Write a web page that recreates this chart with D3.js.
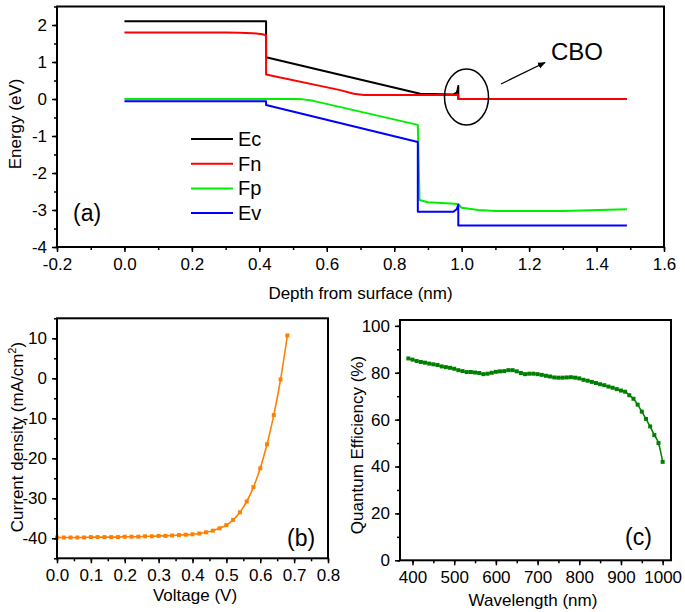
<!DOCTYPE html>
<html><head><meta charset="utf-8">
<script src="https://cdn.jsdelivr.net/npm/d3@7"></script>
<style>
body{margin:0;background:#fff;}
text{font-family:Arial,"Liberation Sans",sans-serif;fill:#000;}
</style></head>
<body><svg id="c" width="685" height="612"></svg>
<script>
// ---------- Panel (a) band diagram ----------
const legendNames = ["Ec","Fn","Fp","Ev"];
const legendColors = ["#000000","#ff0000","#00ee00","#0000ff"];
const ecDepth  = [0, 0.42, 0.42, 0.877, 0.975, 0.985, 0.988, 0.99, 0.99, 1.49];
const ecEnergy = [2.1, 2.1, 1.13, 0.14, 0.12, 0.17, 0.25, 0.35, 0.0, 0.0];
const fnDepth  = [0, 0.3, 0.34, 0.38, 0.41, 0.42, 0.42, 0.64, 0.68, 0.71, 0.99, 0.99, 1.49];
const fnEnergy = [1.8, 1.8, 1.79, 1.78, 1.75, 1.72, 0.66, 0.24, 0.14, 0.11, 0.11, 0.0, 0.0];
const fpDepth  = [0, 0.5, 0.53, 0.56, 0.87, 0.875, 0.9, 0.98, 0.99, 1.0, 1.05, 1.1, 1.3, 1.49];
const fpEnergy = [0, 0, -0.01, -0.05, -0.70, -2.73, -2.79, -2.83, -2.84, -2.94, -3.0, -3.03, -3.03, -2.98];
const evDepth  = [0, 0.42, 0.42, 0.87, 0.87, 0.975, 0.985, 0.99, 0.99, 1.49];
const evEnergy = [-0.06, -0.06, -0.16, -1.16, -3.05, -3.05, -2.98, -2.86, -3.42, -3.42];
const aXTicks = [-0.2,0,0.2,0.4,0.6,0.8,1.0,1.2,1.4,1.6];
const aYTicks = [-4,-3,-2,-1,0,1,2];

// ---------- Panel (b) J-V ----------
const voltage = [0,0.02,0.04,0.06,0.08,0.10,0.12,0.14,0.16,0.18,0.20,0.22,0.24,0.26,0.28,0.30,0.32,0.34,0.36,0.38,0.40,0.42,0.44,0.46,0.48,0.50,0.52,0.54,0.56,0.58,0.60,0.62,0.64,0.66,0.68];
const currentDensity = [-39.8,-39.8,-39.8,-39.8,-39.8,-39.7,-39.7,-39.7,-39.7,-39.7,-39.6,-39.6,-39.6,-39.5,-39.5,-39.4,-39.4,-39.3,-39.2,-39.1,-39.0,-38.8,-38.5,-38.1,-37.5,-36.7,-35.4,-33.5,-30.8,-27.2,-22.5,-16.5,-9.2,-0.3,10.7];
const bXTicks = [0,0.1,0.2,0.3,0.4,0.5,0.6,0.7,0.8];
const bYTicks = [-40,-30,-20,-10,0,10];

// ---------- Panel (c) QE ----------
const wavelength = [390,400,410,420,430,440,450,460,470,480,490,500,510,520,530,540,550,560,570,580,590,600,610,620,630,640,650,660,670,680,690,700,710,720,730,740,750,760,770,780,790,800,810,820,830,840,850,860,870,880,890,900,910,920,930,940,950,960,970,980,990,1000];
const qe = [86.1,85.6,85.0,84.6,84.3,83.9,83.6,83.3,82.7,82.4,82.1,81.7,81.1,80.7,80.3,80.3,80.1,79.9,79.4,79.6,80.0,80.4,80.6,80.7,81.1,81.1,80.6,79.9,79.4,79.6,79.6,79.4,79.1,78.7,78.4,78.0,77.9,77.9,78.0,78.1,77.9,77.6,77.0,76.6,76.1,75.6,75.1,74.7,74.1,73.6,73.0,72.4,71.9,70.4,68.9,66.4,63.4,60.3,57.1,53.4,50.0,42.0];
const cXTicks = [400,500,600,700,800,900,1000];
const cYTicks = [0,20,40,60,80,100];

const svg = d3.select("#c");
const FS = 17;

function frame(g, x, y, xTicks, yTicks, xMinor, yMinor, xFmt, yFmt) {
  const [x0,x1] = x.range(), [y0,y1] = y.range();
  const xa = g.append("g").attr("transform",`translate(0,${y0})`)
    .call(d3.axisBottom(x).tickValues(xMinor).tickSize(3).tickFormat(""));
  xa.select(".domain").remove();
  const xb = g.append("g").attr("transform",`translate(0,${y0})`)
    .call(d3.axisBottom(x).tickValues(xTicks).tickSize(5).tickPadding(6).tickFormat(xFmt));
  xb.select(".domain").remove();
  const ya = g.append("g").attr("transform",`translate(${x0},0)`)
    .call(d3.axisLeft(y).tickValues(yMinor).tickSize(3).tickFormat(""));
  ya.select(".domain").remove();
  const yb = g.append("g").attr("transform",`translate(${x0},0)`)
    .call(d3.axisLeft(y).tickValues(yTicks).tickSize(5).tickPadding(5).tickFormat(yFmt));
  yb.select(".domain").remove();
  g.selectAll(".tick line").attr("stroke","#000").attr("stroke-width",1.5);
  g.selectAll(".tick text").attr("font-size",FS).attr("font-family","Arial, Liberation Sans, sans-serif").attr("fill","#000");
  g.append("rect").attr("x",x0).attr("y",y1).attr("width",x1-x0).attr("height",y0-y1)
    .attr("fill","none").attr("stroke","#000").attr("stroke-width",2);
}

// ----- Panel (a)
const ax = d3.scaleLinear().domain([-0.2,1.6]).range([57,664]);
const ay = d3.scaleLinear().domain([-4,2.5]).range([247,6.5]);
const ga = svg.append("g");
const aLine = d3.line().x(d=>ax(d[0])).y(d=>ay(d[1]));
const seriesA = [[ecDepth,ecEnergy],[fnDepth,fnEnergy],[fpDepth,fpEnergy],[evDepth,evEnergy]];
seriesA.forEach((s,i)=>{
  const pts = s[0].map((d,j)=>[d,s[1][j]]);
  ga.append("path").attr("d",aLine(pts)).attr("fill","none")
    .attr("stroke",legendColors[i]).attr("stroke-width",2).attr("stroke-linejoin","round");
});
frame(ga, ax, ay, aXTicks, aYTicks, d3.range(-0.2,1.61,0.1).map(v=>+v.toFixed(2)), d3.range(-4,2.51,0.5),
  d3.format(".1f"), d=>d<0?"-"+Math.abs(d):String(d));
ga.selectAll("g.tick text").text(function(){return this.textContent.replace("−","-");});
// legend
legendNames.forEach((n,i)=>{
  const yy = 139 + i*24.7;
  ga.append("line").attr("x1",191).attr("x2",233).attr("y1",yy).attr("y2",yy)
    .attr("stroke",legendColors[i]).attr("stroke-width",2);
  ga.append("text").attr("x",238).attr("y",yy+7).attr("font-size",20).text(n);
});
ga.append("text").attr("x",73).attr("y",221).attr("font-size",23).text("(a)");
// CBO annotation
ga.append("ellipse").attr("cx",466.5).attr("cy",97).attr("rx",22).attr("ry",28)
  .attr("fill","none").attr("stroke","#000").attr("stroke-width",1.5);
const defs = svg.append("defs");
defs.append("marker").attr("id","arr").attr("viewBox","0 0 10 10").attr("refX",9).attr("refY",5)
  .attr("markerWidth",6).attr("markerHeight",6).attr("orient","auto")
  .append("path").attr("d","M0,1 L10,5 L0,9 z").attr("fill","#000");
ga.append("line").attr("x1",501).attr("y1",84).attr("x2",545).attr("y2",62.5)
  .attr("stroke","#000").attr("stroke-width",1.3).attr("marker-end","url(#arr)");
ga.append("text").attr("x",577).attr("y",60).attr("text-anchor","middle").attr("font-size",24).text("CBO");
ga.append("text").attr("x",360.5).attr("y",299).attr("text-anchor","middle").attr("font-size",FS).text("Depth from surface (nm)");
ga.append("text").attr("transform","translate(21,124) rotate(-90)").attr("text-anchor","middle").attr("font-size",FS).text("Energy (eV)");

// ----- Panel (b)
const bx = d3.scaleLinear().domain([0,0.8]).range([57,328]);
const by = d3.scaleLinear().domain([-45,15]).range([558.3,318.3]);
const gb = svg.append("g");
const orange = "#ff8000";
const bPts = voltage.map((v,i)=>[v,currentDensity[i]]);
gb.append("path").attr("d",d3.line().curve(d3.curveMonotoneX).x(d=>bx(d[0])).y(d=>by(d[1]))(bPts))
  .attr("fill","none").attr("stroke",orange).attr("stroke-width",1.6);
gb.selectAll("rect.pt").data(bPts).join("rect").attr("class","pt")
  .attr("x",d=>bx(d[0])-2).attr("y",d=>by(d[1])-2).attr("width",4).attr("height",4).attr("fill",orange);
frame(gb, bx, by, bXTicks, bYTicks, d3.range(0,0.81,0.05).map(v=>+v.toFixed(2)), d3.range(-45,15.1,5),
  d3.format(".1f"), d=>d<0?"-"+Math.abs(d):String(d));
gb.append("text").attr("x",287).attr("y",546).attr("font-size",23).text("(b)");
gb.append("text").attr("x",195).attr("y",601).attr("text-anchor","middle").attr("font-size",FS).text("Voltage (V)");
const bl = gb.append("text").attr("transform","translate(23,437) rotate(-90)").attr("text-anchor","middle").attr("font-size",FS);
bl.append("tspan").text("Current density (mA/cm");
bl.append("tspan").attr("font-size",11).attr("dy",-7).text("2");
bl.append("tspan").attr("dy",7).text(")");

// ----- Panel (c)
const cx = d3.scaleLinear().domain([370,1020]).range([400,671]);
const cy = d3.scaleLinear().domain([0,102.5]).range([560.3,320]);
const gc = svg.append("g");
const green = "#008000";
const cPts = wavelength.map((w,i)=>[w,qe[i]]);
gc.append("path").attr("d",d3.line().curve(d3.curveMonotoneX).x(d=>cx(d[0])).y(d=>cy(d[1]))(cPts))
  .attr("fill","none").attr("stroke",green).attr("stroke-width",1.5);
gc.selectAll("rect.pt").data(cPts).join("rect").attr("class","pt")
  .attr("x",d=>cx(d[0])-2).attr("y",d=>cy(d[1])-2).attr("width",4).attr("height",4).attr("fill",green);
frame(gc, cx, cy, cXTicks, cYTicks, d3.range(400,1001,50), d3.range(0,101,10), d3.format("d"), d3.format("d"));
gc.append("text").attr("x",625).attr("y",545).attr("font-size",23).text("(c)");
gc.append("text").attr("x",533).attr("y",606).attr("text-anchor","middle").attr("font-size",FS).text("Wavelength (nm)");
gc.append("text").attr("transform","translate(363,445) rotate(-90)").attr("text-anchor","middle").attr("font-size",FS).text("Quantum Efficiency (%)");
</script></body></html>
